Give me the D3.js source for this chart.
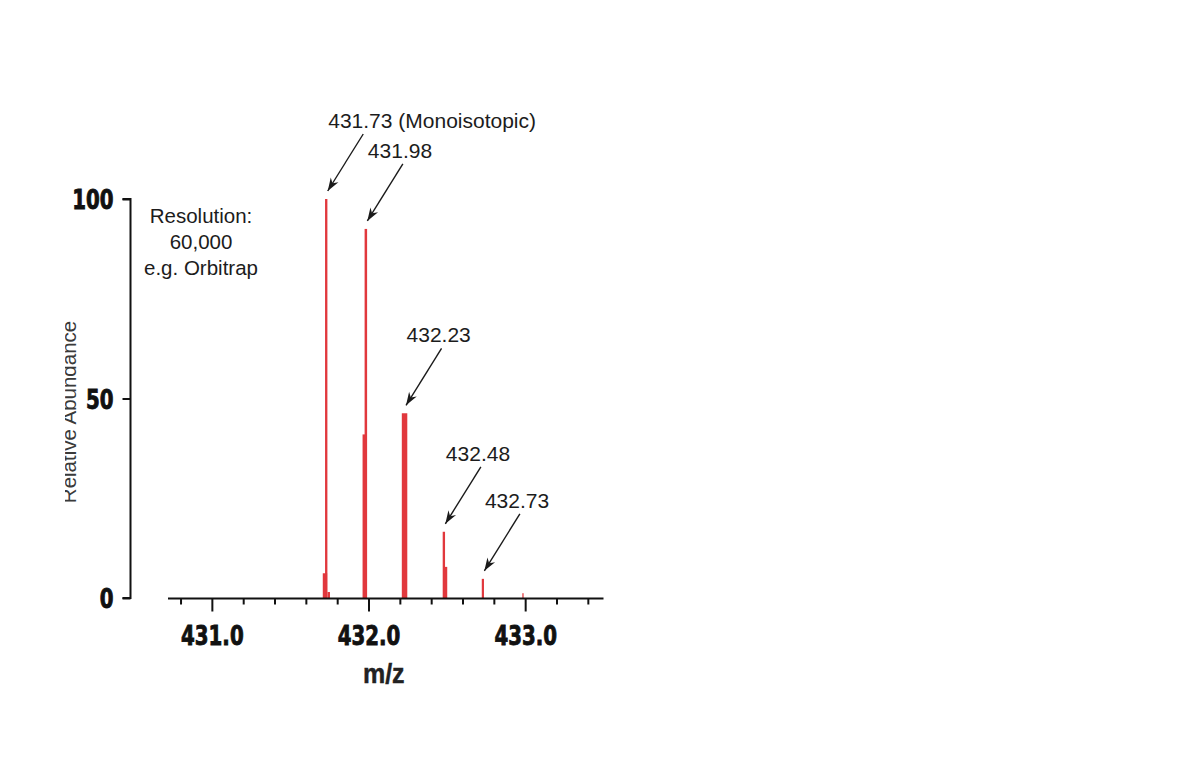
<!DOCTYPE html>
<html>
<head>
<meta charset="utf-8">
<script src="https://cdn.jsdelivr.net/npm/d3@7/dist/d3.min.js"></script>
<style>
  html, body { margin: 0; padding: 0; background: #fff; }
  svg { display: block; }
  .tick-lbl { font-family: "DejaVu Sans Condensed", "DejaVu Sans", sans-serif; font-stretch: condensed; font-weight: bold; fill: #111; stroke: #111; stroke-width: 0.7px; }
  .ann { font-family: "Liberation Sans", Arial, sans-serif; fill: #1c1c1c; }
</style>
</head>
<body>
<svg id="chart" width="1200" height="760"></svg>
<script>
// ---- data ----
const xDomain = [430.72, 433.5];
const yDomain = [0, 100];
const yTicks = [0, 50, 100];
const yTickLabels = ["0", "50", "100"];
const xMajorTicks = [431.0, 432.0, 433.0];
const xMajorLabels = ["431.0", "432.0", "433.0"];
const xMinorTicks = [430.8, 431.2, 431.4, 431.6, 431.8, 432.2, 432.4, 432.6, 432.8, 433.2, 433.4];

// profile sticks: m/z, relative intensity, peak width (m/z)
const peakMz        = [431.722, 431.730, 431.746, 431.974, 431.983, 432.230, 432.481, 432.490, 432.730, 432.986];
const peakIntensity = [6.2,     100,     1.5,     41,      92.5,    46.3,    16.6,    7.8,     4.8,     1.2];
const peakWidthMz   = [0.028,   0.015,   0.016,   0.024,   0.016,   0.035,   0.015,   0.025,   0.014,   0.008];

// annotated peaks
const annMz        = [431.730, 431.983, 432.230, 432.481, 432.730];
const annIntensity = [100, 92.5, 46.3, 16.6, 4.8];
const annText      = ["431.73 (Monoisotopic)", "431.98", "432.23", "432.48", "432.73"];

const infoLines = ["Resolution:", "60,000", "e.g. Orbitrap"];
const xTitle = "m/z";
const yTitle = "Relative Abundance";

// ---- drawing ----
const svg = d3.select("#chart");
const x = d3.scaleLinear().domain(xDomain).range([168, 603.5]);
const y = d3.scaleLinear().domain(yDomain).range([598, 199]);

const red = "#e1383d";

// peaks
svg.append("g").selectAll("rect").data(peakMz).join("rect")
  .attr("x", (d, i) => x(d - peakWidthMz[i] / 2))
  .attr("width", (d, i) => Math.max(1.2, x(d + peakWidthMz[i] / 2) - x(d - peakWidthMz[i] / 2)))
  .attr("y", (d, i) => y(peakIntensity[i]))
  .attr("height", (d, i) => y(0) - y(peakIntensity[i]))
  .attr("fill", red);

// y axis
const yAxis = d3.axisLeft(y).tickValues(yTicks).tickSize(8).tickFormat((d, i) => yTickLabels[i]);
const gy = svg.append("g").attr("transform", "translate(130.5,0)").call(yAxis);
gy.select(".domain").attr("stroke", "#111").attr("stroke-width", 2).attr("d", `M-8,${y(100)}H0V${y(0)}H-8`);
gy.selectAll(".tick line").attr("stroke", "#111").attr("stroke-width", 2);
gy.selectAll(".tick text").attr("class", "tick-lbl").attr("x", -17).attr("dy", "0.36em")
  .attr("transform", "scale(1,1.2)")
  .style("font-size", "22px");

// x axis
const xAxis = d3.axisBottom(x).tickValues(xMajorTicks).tickSize(13).tickFormat((d, i) => xMajorLabels[i]);
const gx = svg.append("g").attr("transform", "translate(0,598.5)").call(xAxis);
gx.select(".domain").attr("stroke", "#111").attr("stroke-width", 2).attr("d", `M${x.range()[0]},0H${x.range()[1]}`);
gx.selectAll(".tick line").attr("stroke", "#111").attr("stroke-width", 2);
gx.selectAll(".tick text").attr("class", "tick-lbl").attr("y", 0).attr("dy", 0)
  .attr("transform", "translate(0,46.5) scale(1,1.2)")
  .style("font-size", "22px");
const xMinor = d3.axisBottom(x).tickValues(xMinorTicks).tickSize(6).tickFormat("");
const gxm = svg.append("g").attr("transform", "translate(0,598.5)").call(xMinor);
gxm.select(".domain").remove();
gxm.selectAll(".tick line").attr("stroke", "#111").attr("stroke-width", 2);

// axis titles
svg.append("text").attr("transform", `translate(${(x.range()[0] + x.range()[1]) / 2 - 2},683) scale(1,1.1)`)
  .attr("text-anchor", "middle").attr("class", "ann")
  .style("font-size", "25px").style("font-weight", "bold").style("fill", "#222")
  .style("stroke", "#222").style("stroke-width", "0.4px").text(xTitle);

const defs = svg.append("defs");
defs.append("clipPath").attr("id", "yclip").append("rect").attr("x", 65).attr("y", 0).attr("width", 60).attr("height", 760);
svg.append("g").attr("clip-path", "url(#yclip)")
  .append("text").attr("transform", "translate(76,412) rotate(-90)")
  .attr("text-anchor", "middle").attr("class", "ann").style("font-size", "20.5px").style("fill", "#3a3a3a").text(yTitle);

// info text
svg.append("g").selectAll("text").data(infoLines).join("text")
  .attr("class", "ann").attr("x", 201).attr("y", (d, i) => 223 + i * 26)
  .attr("text-anchor", "middle").style("font-size", "20.5px").text(d => d);

// arrowhead marker
defs.append("marker").attr("id", "ah")
  .attr("markerUnits", "userSpaceOnUse").attr("markerWidth", 16).attr("markerHeight", 12)
  .attr("viewBox", "-14 -6 16 12").attr("refX", 0).attr("refY", 0).attr("orient", "auto")
  .append("path").attr("d", "M0,0L-13,-4.5L-9,0L-13,4.5Z").attr("fill", "#1a1a1a");

const ann = svg.append("g");
ann.selectAll("line").data(annMz).join("line")
  .attr("x1", d => x(d) + 37).attr("y1", (d, i) => y(annIntensity[i]) - 65)
  .attr("x2", d => x(d) + 1.5).attr("y2", (d, i) => y(annIntensity[i]) - 8)
  .attr("stroke", "#1a1a1a").attr("stroke-width", 1.4).attr("marker-end", "url(#ah)");
ann.selectAll("text").data(annMz).join("text")
  .attr("class", "ann").attr("x", d => x(d) + 2).attr("y", (d, i) => y(annIntensity[i]) - 71)
  .style("font-size", "21px").text((d, i) => annText[i]);
</script>
</body>
</html>
